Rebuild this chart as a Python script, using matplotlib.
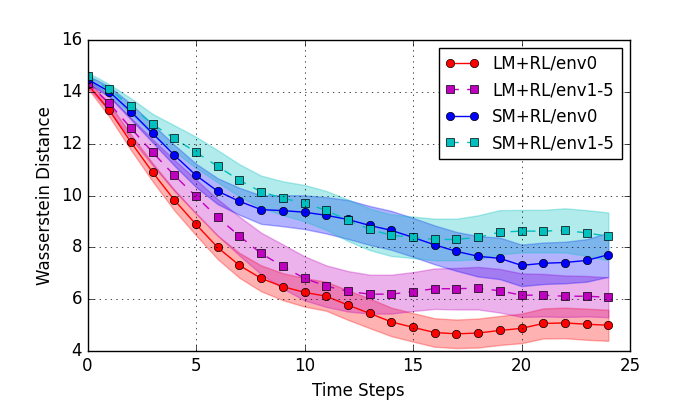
import matplotlib
matplotlib.use("Agg")
from matplotlib import pyplot as plt
import numpy as np

plt.style.use("classic")
plt.rcParams["figure.facecolor"] = "white"
plt.rcParams["savefig.facecolor"] = "white"

steps = np.arange(25)

lm_env0 = [14.30, 13.30, 12.06, 10.90, 9.83, 8.89, 8.00, 7.31, 6.81, 6.49, 6.27, 6.12, 5.78,
           5.46, 5.13, 4.92, 4.72, 4.67, 4.70, 4.80, 4.88, 5.07, 5.09, 5.04, 5.00]
lm_env15 = [14.34, 13.56, 12.60, 11.67, 10.78, 9.97, 9.16, 8.44, 7.77, 7.27, 6.81, 6.51, 6.31,
            6.20, 6.20, 6.30, 6.41, 6.41, 6.43, 6.33, 6.16, 6.16, 6.12, 6.12, 6.08]
sm_env0 = [14.49, 14.01, 13.24, 12.40, 11.56, 10.78, 10.17, 9.78, 9.46, 9.42, 9.36, 9.24, 9.08,
           8.85, 8.66, 8.39, 8.10, 7.85, 7.66, 7.58, 7.31, 7.39, 7.42, 7.50, 7.72]
sm_env15 = [14.60, 14.10, 13.45, 12.75, 12.21, 11.67, 11.13, 10.59, 10.15, 9.90, 9.71, 9.43, 9.05,
            8.70, 8.47, 8.39, 8.31, 8.31, 8.39, 8.59, 8.63, 8.63, 8.66, 8.56, 8.43]

lm_env0_std = [0.15, 0.25, 0.3, 0.35, 0.4, 0.42, 0.45, 0.48, 0.5, 0.52, 0.55, 0.56, 0.57,
               0.57, 0.55, 0.55, 0.55, 0.55, 0.56, 0.56, 0.57, 0.58, 0.59, 0.6, 0.6]
lm_env15_std = [0.15, 0.3, 0.4, 0.5, 0.6, 0.65, 0.7, 0.75, 0.8, 0.85, 0.85, 0.8, 0.78,
                0.75, 0.75, 0.75, 0.78, 0.8, 0.82, 0.84, 0.84, 0.82, 0.8, 0.78, 0.77]
sm_env0_std = [0.15, 0.2, 0.3, 0.35, 0.4, 0.45, 0.5, 0.52, 0.55, 0.6, 0.65, 0.7, 0.75,
               0.75, 0.75, 0.75, 0.75, 0.75, 0.78, 0.8, 0.8, 0.8, 0.8, 0.82, 0.85]
sm_env15_std = [0.15, 0.2, 0.3, 0.4, 0.5, 0.6, 0.62, 0.62, 0.62, 0.65, 0.7, 0.75, 0.8,
                0.8, 0.8, 0.8, 0.8, 0.8, 0.85, 0.85, 0.82, 0.82, 0.85, 0.88, 0.92]

series = [
    ("LM+RL/env0", lm_env0, lm_env0_std, "r", "o-"),
    ("LM+RL/env1-5", lm_env15, lm_env15_std, "m", "s--"),
    ("SM+RL/env0", sm_env0, sm_env0_std, "b", "o-"),
    ("SM+RL/env1-5", sm_env15, sm_env15_std, "c", "s--"),
]

fig, ax = plt.subplots(figsize=(7, 4), dpi=100)
fig.subplots_adjust(left=0.125, right=0.9, top=0.9, bottom=0.122)

for label, mean, std, color, fmt in series:
    mean = np.array(mean)
    std = np.array(std)
    ax.plot(steps, mean, fmt, color=color, label=label, markersize=6)
    ax.fill_between(steps, mean - std, mean + std, color=color, alpha=0.3)

ax.set_xlim(0, 25)
ax.set_ylim(4, 16)
ax.set_xticks(np.arange(0, 26, 5))
ax.set_yticks(np.arange(4, 17, 2))
ax.grid(True)
ax.set_xlabel("Time Steps")
ax.set_ylabel("Wasserstein Distance")
ax.legend(loc="upper right", fontsize=12)

plt.savefig("out.png", dpi=100)
